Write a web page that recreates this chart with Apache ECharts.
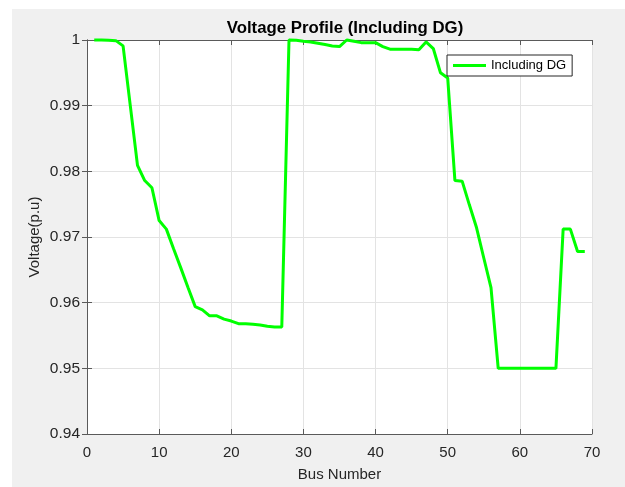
<!DOCTYPE html>
<html>
<head>
<meta charset="utf-8">
<script src="https://cdn.jsdelivr.net/npm/echarts@6/dist/echarts.min.js"></script>
<style>
html,body{margin:0;padding:0;background:#fff;}
#c{width:625px;height:487px;}
</style>
</head>
<body>
<div id="c"></div>
<script>
const buses = [];
for (let i = 1; i <= 69; i++) buses.push(i);
const voltage = [
  1.0000, 1.0000, 0.99995, 0.9999, 0.9991, 0.9900, 0.9809, 0.9786, 0.9775, 0.9725,
  0.9712, 0.9682, 0.9653, 0.9623, 0.9594, 0.9589, 0.9580, 0.9580, 0.9575, 0.9572,
  0.9568, 0.9568, 0.9567, 0.9566, 0.9564, 0.9563, 0.9563, 1.0000, 0.99995, 0.9998,
  0.9997, 0.9995, 0.9993, 0.9991, 0.9990, 1.0000, 0.9998, 0.9996, 0.9996, 0.9996,
  0.9990, 0.9986, 0.9986, 0.9986, 0.9986, 0.9985, 0.9997, 0.9987, 0.9950, 0.9942,
  0.9786, 0.9785, 0.9749, 0.9714, 0.9668, 0.9623, 0.9500, 0.9500, 0.9500, 0.9500,
  0.9500, 0.9500, 0.9500, 0.9500, 0.9500, 0.9712, 0.9712, 0.9678, 0.9678
];
const seriesName = 'Including DG';
const titleText = 'Voltage Profile (Including DG)';
const xName = 'Bus Number';
const yName = 'Voltage(p.u)';

const FONT = '"Liberation Sans", Arial, Helvetica, sans-serif';
const chart = echarts.init(document.getElementById('c'), null, {renderer: 'canvas'});
const axisLine = {show: true, lineStyle: {color: '#5a5a5a', width: 1}};
const tickIn = {show: true, inside: true, length: 5, lineStyle: {color: '#5a5a5a'}};
chart.setOption({
  backgroundColor: '#ffffff',
  animation: false,
  graphic: [{
    type: 'rect', z: -10, silent: true,
    shape: {x: 12, y: 9, width: 613, height: 478},
    style: {fill: '#f0f0f0'}
  }],
  title: {
    text: titleText, left: 340, top: 15, textAlign: 'center',
    textStyle: {fontFamily: FONT, fontWeight: 'bold', fontSize: 16.8, color: '#000'}
  },
  legend: {
    data: [seriesName], left: 447, top: 55,
    icon: 'rect', itemWidth: 33, itemHeight: 3, itemGap: 5,
    backgroundColor: '#fff', borderColor: '#262626', borderWidth: 1,
    padding: [4, 6, 4, 6], borderRadius: 0,
    textStyle: {fontFamily: FONT, fontSize: 13, color: '#000'}
  },
  grid: {left: 87, right: 33, top: 40, bottom: 49, containLabel: false, show: true, backgroundColor: '#fff', borderWidth: 0},
  xAxis: [{
    type: 'value', min: 0, max: 70, interval: 10, position: 'bottom',
    name: xName, nameLocation: 'middle', nameGap: 33, nameMoveOverlap: false,
    nameTextStyle: {fontFamily: FONT, fontSize: 15, color: '#262626'},
    axisLine: axisLine, axisTick: tickIn,
    axisLabel: {fontFamily: FONT, fontSize: 15, color: '#262626', margin: 11},
    splitLine: {show: true, lineStyle: {color: '#e3e3e3'}}
  }, {
    type: 'value', min: 0, max: 70, interval: 10, position: 'top',
    axisLine: axisLine, axisTick: tickIn, axisLabel: {show: false}, splitLine: {show: false}
  }],
  yAxis: [{
    type: 'value', min: 0.94, max: 1, interval: 0.01, position: 'left',
    name: yName, nameLocation: 'middle', nameGap: 45, nameRotate: 90, nameMoveOverlap: false,
    nameTextStyle: {fontFamily: FONT, fontSize: 15, color: '#262626'},
    axisLine: axisLine, axisTick: tickIn,
    axisLabel: {fontFamily: FONT, fontSize: 15.5, color: '#262626', margin: 7,
      formatter: v => String(parseFloat(v.toFixed(2)))},
    splitLine: {show: true, lineStyle: {color: '#e3e3e3'}}
  }, {
    type: 'value', min: 0.94, max: 1, interval: 0.01, position: 'right',
    axisLine: axisLine, axisTick: tickIn, axisLabel: {show: false}, splitLine: {show: false}
  }],
  series: [{
    name: seriesName, type: 'line', xAxisIndex: 0, yAxisIndex: 0,
    data: buses.map((b, i) => [b, voltage[i]]),
    showSymbol: false, symbol: 'none', clip: false,
    lineStyle: {color: '#00ff00', width: 3},
    itemStyle: {color: '#00ff00'}
  }]
});
</script>
</body>
</html>
